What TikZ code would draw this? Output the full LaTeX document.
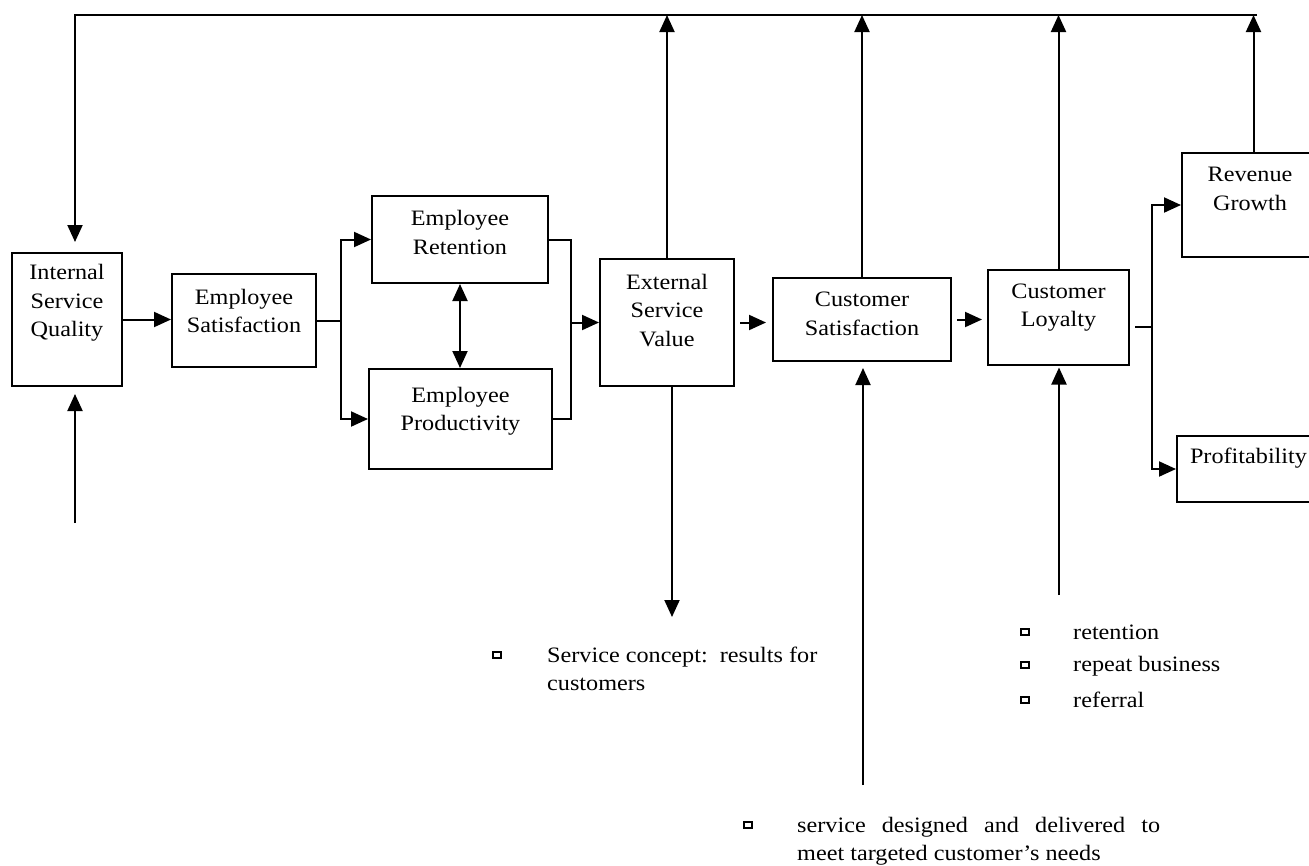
\documentclass[tikz,border=0pt]{standalone}
\usepackage{fontspec}
\setmainfont{Liberation Serif}[FakeStretch=1.1]
\usetikzlibrary{arrows.meta}
\begin{document}
\begin{tikzpicture}[x=1pt,y=-1pt,
  every node/.style={font=\fontsize{22}{28.5}\selectfont},
  box/.style={draw, line width=2pt, inner sep=0pt},
  lbl/.style={align=center, inner sep=0pt},
  conn/.style={line width=2pt},
  arr/.style={conn, -{Triangle[length=17pt,width=15pt]}},
  arrtwo/.style={conn, {Triangle[length=17pt,width=15pt]}-{Triangle[length=17pt,width=15pt]}},
  bul/.style={draw, line width=1.2pt, minimum width=8pt, minimum height=6pt, inner sep=0pt},
  note/.style={inner sep=0pt}]
\useasboundingbox (0,0) rectangle (1309,865);

% boxes of the service-profit chain
\node[box, minimum width=110pt, minimum height=133pt,
  label={[lbl,yshift=16.5pt]center:Internal\\Service\\Quality}] (isq) at (67,319.5) {};
\node[box, minimum width=144pt, minimum height=93pt,
  label={[lbl,yshift=9.5pt]center:Employee\\Satisfaction}] (es) at (244,320.5) {};
\node[box, minimum width=176pt, minimum height=87pt,
  label={[lbl,yshift=7pt]center:Employee\\Retention}] (er) at (460,239.5) {};
\node[box, minimum width=183pt, minimum height=100pt,
  label={[lbl,yshift=8pt]center:Employee\\Productivity}] (ep) at (460.5,419) {};
\node[box, minimum width=134pt, minimum height=127pt,
  label={[lbl,yshift=12pt]center:External\\Service\\Value}] (esv) at (667,322.5) {};
\node[box, minimum width=178pt, minimum height=83pt,
  label={[lbl,yshift=5.5pt]center:Customer\\Satisfaction}] (cs) at (862,319.5) {};
\node[box, minimum width=141pt, minimum height=95pt,
  label={[lbl,yshift=10pt]center:Customer\\Loyalty}] (cl) at (1058.5,317.5) {};
\node[box, minimum width=136pt, minimum height=104pt,
  label={[lbl,yshift=16pt]center:Revenue\\Growth}] (rg) at (1250,205) {};
\node[box, minimum width=148pt, minimum height=66pt,
  label={[lbl,yshift=11pt,xshift=-2.5pt]center:Profitability}] (prof) at (1251,469) {};

% feedback bus along the top
\coordinate (busL) at (75,15);
\coordinate (busR) at (1257,15);
\draw[arr, shorten >=10pt] (busR) -- (busL) -- (busL |- isq.north);
\draw[arr] (esv.north) -- (esv.north |- busL);
\draw[arr] (cs.north) -- (cs.north |- busL);
\draw[arr] (cl.north) -- (cl.north |- busL);
\draw[arr] ([xshift=3.5pt]rg.north) -- ([xshift=3.5pt]rg.north |- busL);

% input into internal service quality
\coordinate (isqIn) at (75,523);
\draw[arr, shorten >=7pt] (isqIn) -- (isqIn |- isq.south);

% main chain
\draw[arr] (isq.east) -- (isq.east -| es.west);
\coordinate (sp1) at (341,320.5);
\draw[conn] (es.east) -- (sp1);
\draw[arr] (sp1) |- (er.west);
\draw[arr] (sp1) |- (ep.west);
\draw[arrtwo] (er.south) -- (er.south |- ep.north);
\coordinate (jn1) at (571,322.5);
\draw[conn] (er.east) -| (jn1);
\draw[conn] (ep.east) -| (jn1);
\draw[arr] (jn1) -- (esv.west);
\draw[arr, shorten <=5pt, shorten >=6pt] (esv.east) -- (esv.east -| cs.west);
\draw[arr, shorten <=5pt, shorten >=5pt] (cs.east) -- (cs.east -| cl.west);
\coordinate (sp2) at (1152,327);
\draw[conn, shorten <=5pt] (sp2 -| cl.east) -- (sp2);
\draw[arr] (sp2) |- (rg.west);
\draw[arr] (sp2) |- (prof.west);

% vertical links to the notes
\coordinate (esvOut) at (672,617);
\draw[arr] (esvOut |- esv.south) -- (esvOut);
\coordinate (csIn) at (863,785);
\draw[arr, shorten >=6pt] (csIn) -- (csIn |- cs.south);
\coordinate (clIn) at (1059,595);
\draw[arr, shorten >=1.5pt] (clIn) -- (clIn |- cl.south);

% notes
\node[bul] (b1) at (497,655) {};
\node[note, anchor=base west] (n1a) at (547,662) {Service concept:\ \ results for};
\node[note, anchor=base west] (n1b) at (547,690) {customers};

\node[bul] (b2) at (1025,632) {};
\node[note, anchor=base west] (n2) at (1073,639) {retention};
\node[bul] (b3) at (1025,665) {};
\node[note, anchor=base west] (n3) at (1073,671) {repeat business};
\node[bul] (b4) at (1025,700) {};
\node[note, anchor=base west] (n4) at (1073,707) {referral};

\node[bul] (b5) at (748,825) {};
\node[note, anchor=base west] (n5a) at (797,832) {\makebox[363pt][s]{service designed and delivered to}};
\node[note, anchor=base west] (n5b) at (797,860) {meet targeted customer's needs};
\end{tikzpicture}
\end{document}
